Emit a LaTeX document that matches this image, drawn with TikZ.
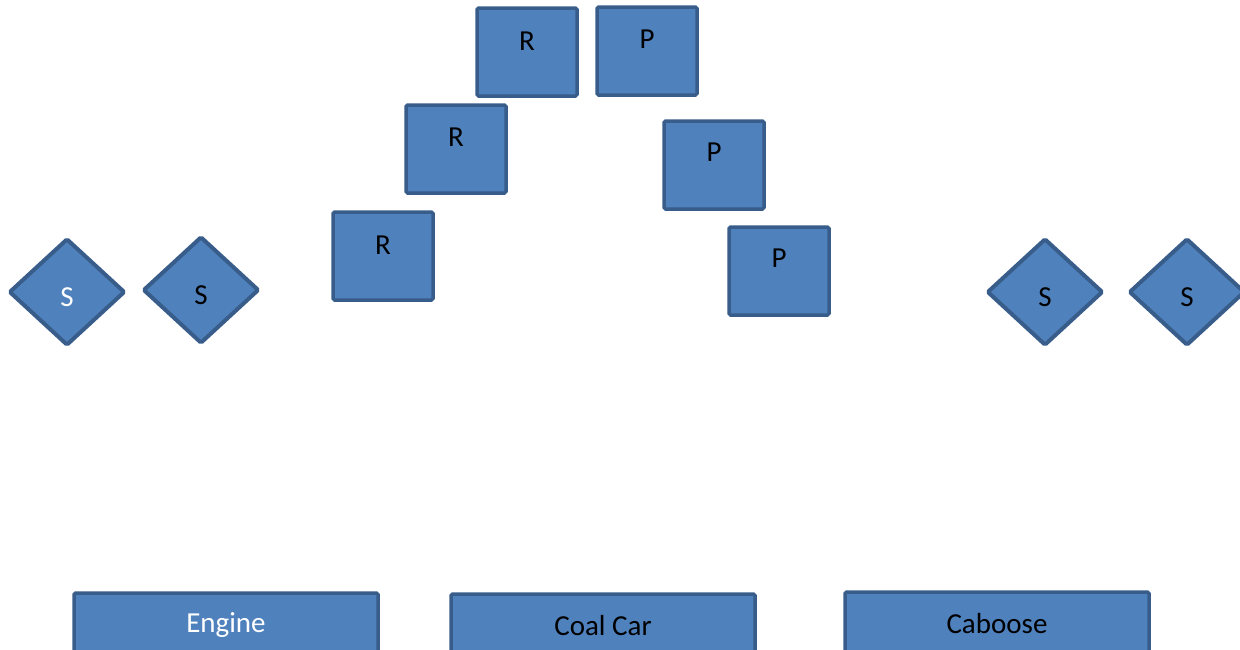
\documentclass[tikz,border=0pt]{standalone}
\usepackage{fontspec}
\setmainfont{Carlito}
\usetikzlibrary{shapes.geometric}
\definecolor{carfill}{HTML}{4F81BD}
\definecolor{caredge}{HTML}{385D8A}

\begin{document}
\begin{tikzpicture}[x=1pt, y=-1pt,
      every label/.style={font=\fontsize{29}{32}\selectfont, inner sep=0pt},
      part/.style={draw=caredge, line width=3.5pt, fill=carfill, rounded corners=1.5pt,
                   inner sep=0pt, font=\fontsize{29}{32}\selectfont},
      box/.style={part, rectangle, minimum width=100pt, minimum height=88pt},
      sig/.style={part, diamond, minimum width=116pt, minimum height=107pt, line width=4pt},
      car/.style={part, rectangle, minimum width=304pt, minimum height=64pt}]
      \clip (0,0) rectangle (1240,649);
      \useasboundingbox (0,0) rectangle (1240,649);
      % reactants rising on the left, products on the right
      \node[box, label={[yshift=11pt]center:R}] (r1) at (527,52) {};
      \node[box, label={[yshift=12pt]center:P}] (p1) at (647,51) {};
      \node[box, label={[yshift=12pt]center:R}] (r2) at (456,149) {};
      \node[box, label={[yshift=13pt]center:P}] (p2) at (714,165) {};
      \node[box, label={[yshift=11pt]center:R}] (r3) at (383,256) {};
      \node[box, label={[yshift=13pt]center:P}] (p3) at (779,271) {};
      % signals
      \node[sig, label={[yshift=-5pt, text=white]center:S}] (s1) at (67,292) {};
      \node[sig, label={[yshift=-5pt]center:S}] (s2) at (201,290) {};
      \node[sig, label={[yshift=-5pt]center:S}] (s3) at (1045,292) {};
      \node[sig, label={[yshift=-5pt]center:S}] (s4) at (1187,292) {};
      % the train
      \node[car, text=white] (engine) at (226,625) {Engine};
      \node[car] (coal) at (603,626) {Coal Car};
      \node[car] (caboose) at (997,624) {Caboose};
    \end{tikzpicture}
\end{document}
